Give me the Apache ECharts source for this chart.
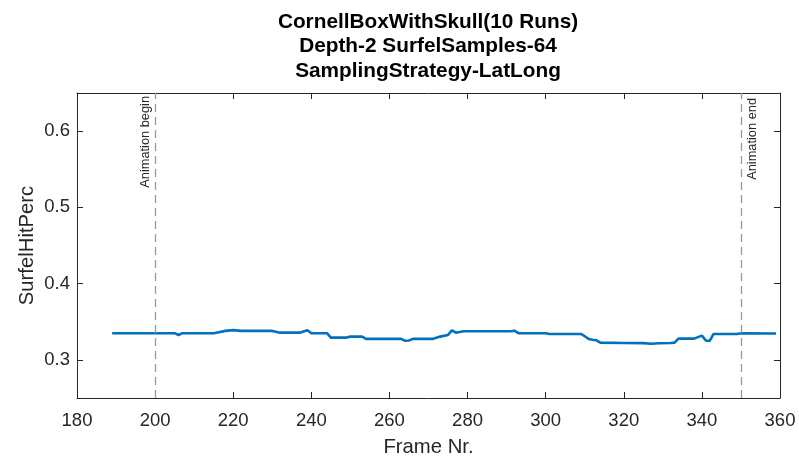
<!DOCTYPE html>
<html>
<head>
<meta charset="utf-8">
<script src="https://cdn.jsdelivr.net/npm/echarts@6/dist/echarts.min.js"></script>
<style>html,body{margin:0;padding:0;background:#fff}#c{width:799px;height:458px}</style>
</head>
<body>
<div id="c"></div>
<script>
const titleLines = ['CornellBoxWithSkull(10 Runs)', 'Depth-2 SurfelSamples-64', 'SamplingStrategy-LatLong'];
const xName = 'Frame Nr.';
const yName = 'SurfelHitPerc';
const xTicks = [180, 200, 220, 240, 260, 280, 300, 320, 340, 360];
const yTicks = [0.3, 0.4, 0.5, 0.6];
const frames = [189, 205, 206, 207, 215, 216, 218, 220, 222, 230, 232, 237, 239, 240, 244, 245, 249, 250, 253, 254, 263, 264, 265, 266, 271, 272, 273, 275, 276, 277, 278, 279, 291, 292, 293, 300, 301, 309, 310, 311, 312, 313, 314, 320, 325, 327, 329, 332, 333, 334, 338, 340, 341, 342, 343, 349, 350, 359];
const hitPerc = [0.335, 0.335, 0.3327, 0.335, 0.335, 0.336, 0.338, 0.339, 0.338, 0.338, 0.3357, 0.3357, 0.3388, 0.335, 0.335, 0.3292, 0.3292, 0.3305, 0.3305, 0.3275, 0.3275, 0.325, 0.3255, 0.3275, 0.3275, 0.329, 0.3305, 0.3327, 0.3388, 0.3357, 0.3365, 0.3375, 0.3375, 0.3383, 0.335, 0.335, 0.334, 0.334, 0.331, 0.3275, 0.3265, 0.3257, 0.3226, 0.3222, 0.322, 0.3212, 0.3218, 0.3222, 0.3226, 0.3279, 0.3279, 0.3318, 0.3255, 0.3248, 0.334, 0.334, 0.3348, 0.3345];
const markers = [{x: 200, label: 'Animation begin', side: 'insideEndTop', gap: 3}, {x: 350, label: 'Animation end', side: 'insideEndBottom', gap: 5}];

const font = 'Liberation Sans, Arial, Helvetica, sans-serif';
const axisColor = '#262626';
const chart = echarts.init(document.getElementById('c'), null, {renderer: 'canvas'});
const data = frames.map((f, i) => [f, hitPerc[i]]);

const baseAxisLine = {show: true, onZero: false, lineStyle: {color: axisColor, width: 1}};
chart.setOption({
  animation: false,
  backgroundColor: '#fff',
  title: {
    text: titleLines.join('\n'),
    left: 423, textAlign: 'center', top: 5,
    textStyle: {fontFamily: font, fontWeight: 'bold', fontSize: 20.8, lineHeight: 24.5, color: '#000'}
  },
  grid: {left: 77, right: 19, top: 93, bottom: 60, containLabel: false, outerBoundsMode: 'none'},
  xAxis: [{
    type: 'value', min: 180, max: 360, interval: 20, position: 'bottom',
    name: xName, nameLocation: 'middle', nameGap: 39, nameMoveOverlap: false,
    nameTextStyle: {fontFamily: font, fontSize: 20.3, color: axisColor},
    axisLine: baseAxisLine,
    axisTick: {show: true, inside: true, length: 6, lineStyle: {color: axisColor}},
    axisLabel: {fontFamily: font, fontSize: 18.5, color: axisColor, margin: 13,
      customValues: xTicks},
    splitLine: {show: false}
  }, {
    type: 'value', min: 180, max: 360, interval: 20, position: 'top',
    axisLine: baseAxisLine,
    axisTick: {show: true, inside: true, length: 6, lineStyle: {color: axisColor}},
    axisLabel: {show: false}, splitLine: {show: false}
  }],
  yAxis: [{
    type: 'value', min: 0.25, max: 0.65, position: 'left',
    name: yName, nameLocation: 'middle', nameGap: 40, nameRotate: 90, nameMoveOverlap: false,
    nameTextStyle: {fontFamily: font, fontSize: 20.3, color: axisColor},
    axisLine: baseAxisLine,
    axisTick: {show: true, inside: true, length: 6, lineStyle: {color: axisColor}, customValues: yTicks},
    axisLabel: {fontFamily: font, fontSize: 18.5, color: axisColor, margin: 7, customValues: yTicks,
      formatter: v => (Math.round(v * 10) / 10).toFixed(1)},
    splitLine: {show: false}
  }, {
    type: 'value', min: 0.25, max: 0.65, position: 'right',
    axisLine: baseAxisLine,
    axisTick: {show: true, inside: true, length: 6, lineStyle: {color: axisColor}, customValues: yTicks},
    axisLabel: {show: false}, splitLine: {show: false}
  }],
  series: [{
    type: 'line', data: data, showSymbol: false, symbol: 'none',
    lineStyle: {color: '#0072BD', width: 2.6},
    z: 3,
    markLine: {
      silent: true, symbol: ['none', 'none'], animation: false,
      lineStyle: {color: '#9a9a9a', type: [8, 5], width: 1.3},
      label: {fontFamily: font, fontSize: 12.8, color: '#262626'},
      data: markers.map(m => ({xAxis: m.x, label: {show: true, formatter: m.label, position: m.side, distance: m.gap}}))
    }
  }]
});
</script>
</body>
</html>
